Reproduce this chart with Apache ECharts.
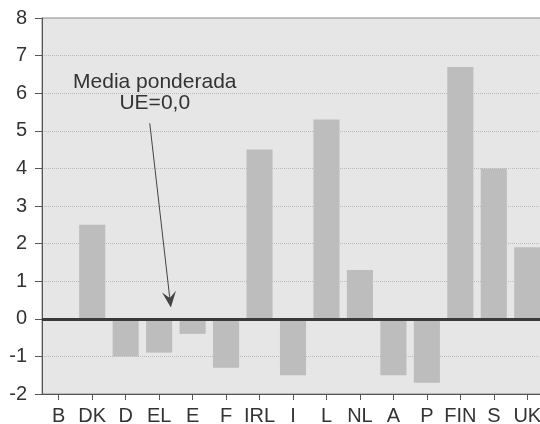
<!DOCTYPE html>
<html>
<head>
<meta charset="utf-8">
<script src="https://cdn.jsdelivr.net/npm/echarts@6/dist/echarts.min.js"></script>
<style>
  html, body { margin: 0; padding: 0; background: #fff; }
  #chart { width: 540px; height: 424px; }
</style>
</head>
<body>
<div id="chart"></div>
<script>
// categories and values
const countries = ['B', 'DK', 'D', 'EL', 'E', 'F', 'IRL', 'I', 'L', 'NL', 'A', 'P', 'FIN', 'S', 'UK'];
const values = [0, 2.5, -1.0, -0.9, -0.4, -1.3, 4.5, -1.5, 5.3, 1.3, -1.5, -1.7, 6.7, 4.0, 1.9];
const yTicks = [-2, -1, 0, 1, 2, 3, 4, 5, 6, 7, 8];
const noteText = 'Media ponderada\nUE=0,0';

const chart = echarts.init(document.getElementById('chart'));

const option = {
  animation: false,
  grid: {
    left: 42, right: -4, top: 18, bottom: 30,
    outerBoundsMode: 'none',
    containLabel: false,
    show: true,
    backgroundColor: '#e6e6e6',
    borderColor: '#888',
    borderWidth: 1
  },
  xAxis: {
    type: 'category',
    data: countries,
    axisLine: { show: true, onZero: false, lineStyle: { color: '#555', width: 1 } },
    axisTick: { show: true, alignWithLabel: true, length: 6, lineStyle: { color: '#555' } },
    axisLabel: { interval: 0, color: '#333', fontSize: 20, fontFamily: 'Liberation Sans', margin: 12 },
    splitLine: { show: false }
  },
  yAxis: {
    type: 'value',
    min: yTicks[0],
    max: yTicks[yTicks.length - 1],
    interval: 1,
    axisLine: { show: true, lineStyle: { color: '#555' } },
    axisTick: { show: true, length: 7, lineStyle: { color: '#555' } },
    axisLabel: { color: '#333', fontSize: 20, fontFamily: 'Liberation Sans', margin: 15 },
    splitLine: { show: true, lineStyle: { color: '#bbb', type: 'dotted', width: 1 } }
  },
  series: [{
    type: 'bar',
    data: values,
    barCategoryGap: '22%',
    itemStyle: { color: '#bdbdbd' },
    markLine: {
      silent: true,
      symbol: 'none',
      label: { show: false },
      lineStyle: { color: '#3a3a3a', width: 3, type: 'solid' },
      data: [{ yAxis: 0 }]
    }
  }]
};
chart.setOption(option);

// annotation text and arrow, placed relative to the axes
const tip = chart.convertToPixel({ gridIndex: 0 }, [3, 0.3]);
const cellW = chart.convertToPixel({ gridIndex: 0 }, [1, 0])[0] - chart.convertToPixel({ gridIndex: 0 }, [0, 0])[0];
const tipX = tip[0] + cellW * 0.35;
const tipY = tip[1];
const start = chart.convertToPixel({ gridIndex: 0 }, [2, 5.2]);
const startX = start[0] + cellW * 0.72;
const startY = start[1];
const ang = Math.atan2(tipY - startY, tipX - startX);
const headLen = 16, headW = 7;
const bx = tipX - headLen * Math.cos(ang), by = tipY - headLen * Math.sin(ang);
const nx = -Math.sin(ang), ny = Math.cos(ang);
const notch = 0.6;
const mx = tipX - headLen * notch * Math.cos(ang), my = tipY - headLen * notch * Math.sin(ang);

chart.setOption({
  graphic: [
    {
      type: 'text',
      x: startX + 5, y: startY - 52,
      style: {
        text: noteText,
        fill: '#333',
        font: '21px "Liberation Sans"',
        align: 'center',
        lineHeight: 21
      }
    },
    {
      type: 'line',
      shape: { x1: startX, y1: startY, x2: mx, y2: my },
      style: { stroke: '#444', lineWidth: 1 }
    },
    {
      type: 'polygon',
      shape: { points: [[tipX, tipY], [bx + nx * headW, by + ny * headW], [mx, my], [bx - nx * headW, by - ny * headW]] },
      style: { fill: '#444' }
    }
  ]
});
</script>
</body>
</html>
